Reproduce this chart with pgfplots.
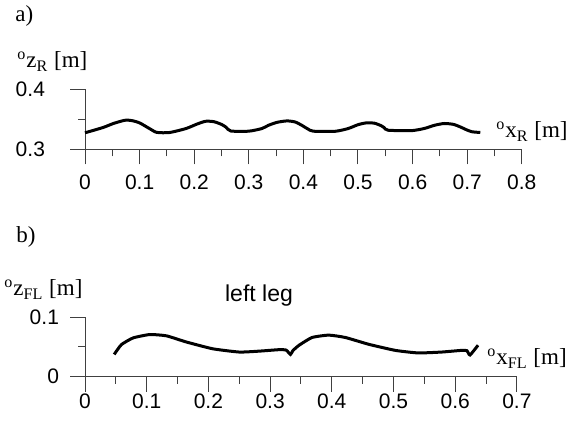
\documentclass[border=0pt]{standalone}
\usepackage{fontspec}
\setmainfont{Liberation Serif}
\setsansfont{Liberation Sans}
\usepackage{pgfplots}
\pgfplotsset{compat=1.18}
\pgfplotstableread{
x y
0 0.3275
0.033 0.3363
0.052 0.3430
0.073 0.3484
0.086 0.3478
0.100 0.3440
0.118 0.3346
0.1315 0.3282
0.155 0.3280
0.185 0.3346
0.205 0.3420
0.221 0.3467
0.236 0.3460
0.250 0.3415
0.258 0.3370
0.267 0.3305
0.300 0.3302
0.324 0.3346
0.336 0.3400
0.352 0.3450
0.370 0.3473
0.385 0.3455
0.397 0.3400
0.408 0.3340
0.418 0.3302
0.458 0.3300
0.482 0.3346
0.500 0.3410
0.515 0.3440
0.530 0.3435
0.542 0.3395
0.548 0.3360
0.555 0.3318
0.597 0.3310
0.621 0.3346
0.640 0.3400
0.658 0.3430
0.675 0.3415
0.688 0.3370
0.700 0.3320
0.709 0.3292
0.724 0.3280
}\topdata
\pgfplotstableread{
x y
0.0473 0.0375
0.059 0.0540
0.078 0.0653
0.105 0.0710
0.132 0.0688
0.164 0.0585
0.207 0.0470
0.250 0.0415
0.282 0.0430
0.3145 0.0455
0.326 0.0448
0.333 0.0375
0.337 0.0440
0.347 0.0530
0.368 0.0660
0.395 0.0700
0.422 0.0660
0.460 0.0545
0.503 0.0443
0.540 0.0400
0.578 0.0415
0.610 0.0443
0.619 0.0438
0.624 0.0365
0.637 0.0530
}\botdata
\pgfplotsset{
  myaxis/.style={
    axis x line=bottom, axis y line=left,
    axis line style={-, black!75, line width=0.5pt},
    every tick/.style={black!75, line width=0.5pt},
    tick align=outside,
    major tick length=7.5pt, minor tick length=3.5pt,
    enlargelimits=false, clip=false,
    tick label style={font=\fontsize{10.5}{11}\sffamily},
    /pgf/number format/assume math mode=true,
    scale only axis,
  }
}
\begin{document}
\begin{tikzpicture}
\path[use as bounding box] (0,0) rectangle (289.5pt,211.5pt);
\begin{axis}[myaxis,
  at={(42.5pt,136.85pt)}, anchor=south west,
  x=273pt, y=300pt,
  xmin=0, xmax=0.8, ymin=0.3, ymax=0.4,
  xtick={0,0.1,0.2,0.3,0.4,0.5,0.6,0.7,0.8},
  xticklabels={0,0.1,0.2,0.3,0.4,0.5,0.6,0.7,0.8},
  minor x tick num=1,
  ytick={0.3,0.4}, yticklabels={0.3,0.4},
  minor ytick={0.35},
  xticklabel style={anchor=center, yshift=-9pt},
  yticklabel style={anchor=east, xshift=-9pt},
]
\addplot[black, line width=1.5pt, smooth, tension=0.4] table[x=x,y=y] {\topdata};
\end{axis}
\begin{axis}[myaxis,
  at={(42.5pt,23.15pt)}, anchor=south west,
  x=308.5pt, y=297pt,
  xmin=0, xmax=0.7, ymin=0, ymax=0.1,
  xtick={0,0.1,0.2,0.3,0.4,0.5,0.6,0.7},
  xticklabels={0,0.1,0.2,0.3,0.4,0.5,0.6,0.7},
  minor x tick num=1,
  ytick={0,0.1}, yticklabels={0,0.1},
  minor ytick={0.05},
  xticklabel style={anchor=center, yshift=-5pt},
  yticklabel style={anchor=east, xshift=-2pt},
]
\addplot[black, line width=1.5pt, smooth, tension=0.3] table[x=x,y=y] {\botdata};
\end{axis}
\node[anchor=base west, inner sep=0pt, font=\fontsize{11.5}{12}\selectfont] at (7.5pt,200.75pt) {a)};
\node[anchor=base west, inner sep=0pt, font=\fontsize{11.5}{12}\selectfont] at (8.5pt,177.5pt) {\textsuperscript{o}z\textsubscript{R} [m]};
\node[anchor=base west, inner sep=0pt, font=\fontsize{11.5}{12}\selectfont] at (248pt,142.5pt) {\textsuperscript{o}x\textsubscript{R} [m]};
\node[anchor=base west, inner sep=0pt, font=\fontsize{11.5}{12}\selectfont] at (8pt,90pt) {b)};
\node[anchor=base west, inner sep=0pt, font=\fontsize{11.5}{12}\selectfont] at (2pt,63.5pt) {\textsuperscript{o}z\textsubscript{FL} [m]};
\node[anchor=base west, inner sep=0pt, font=\fontsize{11.5}{12}\selectfont] at (243.5pt,29pt) {\textsuperscript{o}x\textsubscript{FL} [m]};
\node[anchor=base, inner sep=0pt, font=\fontsize{11.5}{12}\sffamily] at (129.5pt,60.5pt) {left leg};
\end{tikzpicture}
\end{document}
